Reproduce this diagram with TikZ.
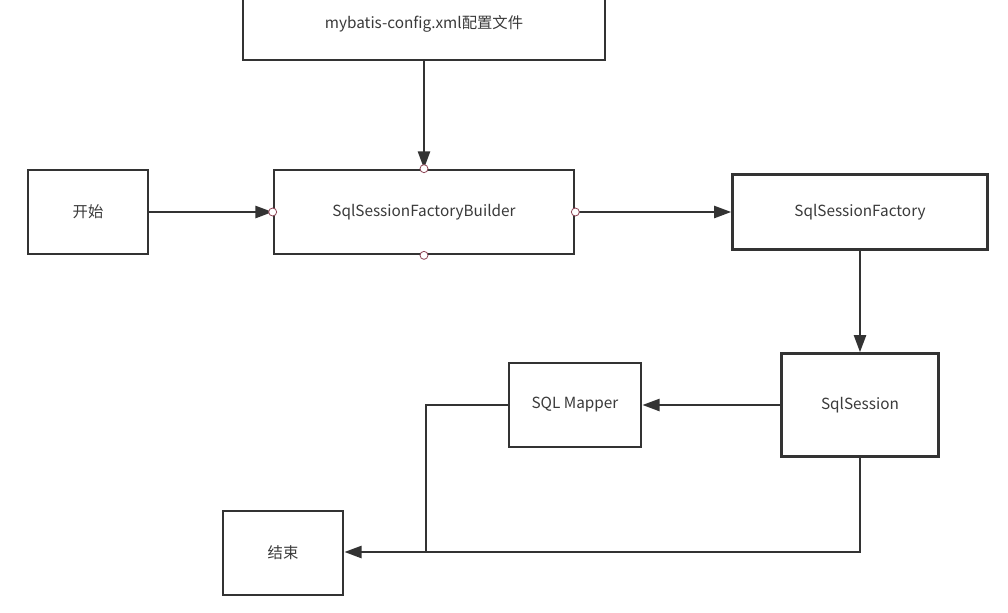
\documentclass[tikz,border=0pt]{standalone}
\usepackage{fontspec}
\setmainfont{Noto Sans CJK SC}
\usetikzlibrary{arrows.meta}

\definecolor{linegray}{HTML}{333333}
\definecolor{textgray}{HTML}{3A3A3A}
\definecolor{portred}{HTML}{8E4657}

\tikzset{
  flowbox/.style={draw=linegray, line width=2pt, fill=white, text=textgray,
                  font=\fontsize{11.5pt}{13pt}\selectfont, inner sep=0pt},
  flowarrow/.style={draw=linegray, line width=2pt,
                    -{Triangle[length=13pt, width=9pt]}},
  flowline/.style={draw=linegray, line width=2pt},
  port/.style={circle, draw=portred, fill=white, line width=0.6pt,
               minimum size=6pt, inner sep=0pt}
}

\begin{document}
\begin{tikzpicture}[x=0.75pt, y=-0.75pt]
  \useasboundingbox (0,0) rectangle (1008,612);

  % boxes
  \node[flowbox, minimum width=271.5pt, minimum height=54pt] (config) at (424,24) {mybatis-config.xml配置文件};
  \node[flowbox, minimum width=90pt, minimum height=63pt] (start) at (88,212) {开始};
  \node[flowbox, minimum width=225pt, minimum height=63pt] (builder) at (424,212) {SqlSessionFactoryBuilder};
  \node[flowbox, minimum width=191pt, minimum height=56pt] (factory) at (860,212) {SqlSessionFactory};
  \node[flowbox, minimum width=118pt, minimum height=77pt] (session) at (860,405) {SqlSession};
  \node[flowbox, minimum width=99pt, minimum height=63pt] (mapper) at (575,405) {SQL Mapper};
  \node[flowbox, minimum width=90pt, minimum height=63pt] (finish) at (283,553) {结束};

  % connectors
  \draw[flowarrow] (config.south) -- (builder.north);
  \draw[flowarrow] (start.east) -- (builder.west);
  \draw[flowarrow] (builder.east) -- (factory.west |- builder.east);
  \draw[flowarrow] (factory.south) -- (session.north);
  \draw[flowarrow] (session.west) -- (mapper.east);
  \coordinate (join) at (426,552);
  \draw[flowline] (mapper.west) -| (join);
  \draw[flowarrow] (session.south) |- (finish.east |- join);

  % connection points
  \foreach \side in {north,south,east,west}
    \node[port] at (builder.\side) {};
\end{tikzpicture}
\end{document}
